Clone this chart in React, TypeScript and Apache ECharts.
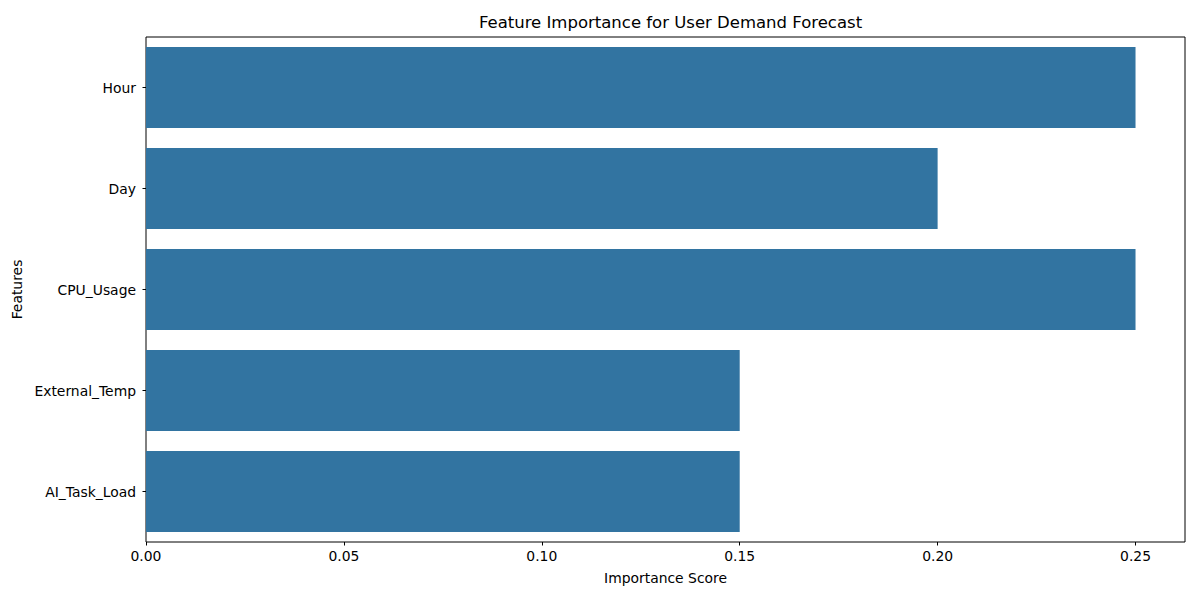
import React, { useEffect, useRef } from "react";
import * as echarts from "echarts";

const categories = ["Hour", "Day", "CPU_Usage", "External_Temp", "AI_Task_Load"];
const importance = [0.25, 0.2, 0.25, 0.15, 0.15];
const xTicks = [0, 0.05, 0.1, 0.15, 0.2, 0.25];

const FONT = "DejaVu Sans";

export default function App() {
  const ref = useRef<HTMLDivElement>(null);
  useEffect(() => {
    const chart = echarts.init(ref.current!, null, { renderer: "svg" });
    chart.setOption({
      animation: false,
      backgroundColor: "#ffffff",
      textStyle: { fontFamily: FONT },
      title: {
        text: "Feature Importance for User Demand Forecast",
        left: 665.5,
        textAlign: "center",
        top: 9,
        textStyle: { fontFamily: FONT, fontSize: 16.5, fontWeight: "normal", color: "#000" },
      },
      grid: {
        left: 146,
        top: 37,
        width: 1039,
        height: 505,
        containLabel: false,
        show: true,
        borderColor: "#000",
        borderWidth: 1,
        backgroundColor: "transparent",
      },
      xAxis: {
        type: "value",
        min: 0,
        max: 0.2625,
        interval: 0.05,
        name: "Importance Score",
        nameLocation: "middle",
        nameGap: 29,
        nameTextStyle: { fontFamily: FONT, fontSize: 13.9, color: "#000" },
        splitLine: { show: false },
        axisLine: { show: false },
        axisTick: {
          show: true,
          inside: false,
          length: 3.5,
          lineStyle: { color: "#000" },
          customValues: xTicks,
        },
        axisLabel: {
          show: true,
          margin: 7,
          fontFamily: FONT,
          fontSize: 13.9,
          color: "#000",
          customValues: xTicks,
          formatter: (v: number) => v.toFixed(2),
        },
      },
      yAxis: {
        type: "category",
        data: categories,
        inverse: true,
        name: "Features",
        nameLocation: "middle",
        nameGap: 119,
        nameTextStyle: { fontFamily: FONT, fontSize: 13.9, color: "#000" },
        axisLine: { show: false },
        axisTick: { show: true, alignWithLabel: true, length: 3.5, lineStyle: { color: "#000" } },
        axisLabel: { margin: 10, fontFamily: FONT, fontSize: 13.9, color: "#000" },
        splitLine: { show: false },
      },
      series: [
        {
          type: "bar",
          data: importance,
          barCategoryGap: "20%",
          itemStyle: { color: "#3274a1" },
        },
      ],
    });
    return () => chart.dispose();
  }, []);
  return (
    <div
      ref={ref}
      style={{ position: "fixed", left: 0, top: 0, width: 1200, height: 600, background: "#fff" }}
    />
  );
}
